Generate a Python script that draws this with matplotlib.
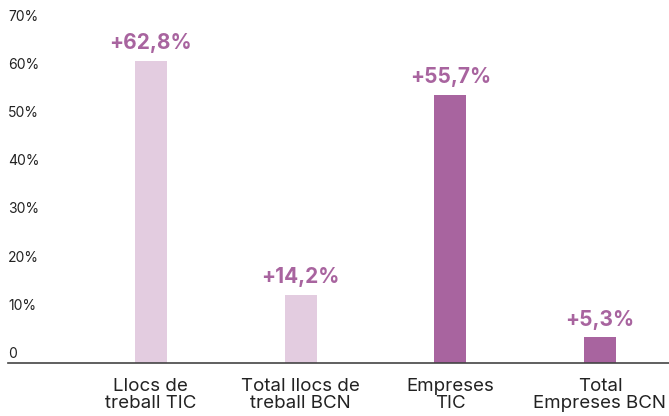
import matplotlib.pyplot as plt
from matplotlib.transforms import offset_copy

# Data
categories = ["Llocs de\ntreball TIC", "Total llocs de\ntreball BCN", "Empreses\nTIC", "Total\nEmpreses BCN"]
values = [62.8, 14.2, 55.7, 5.3]
value_labels = ["+62,8%", "+14,2%", "+55,7%", "+5,3%"]
bar_colors = ["#E3CCE0", "#E3CCE0", "#A8649F", "#A8649F"]
yticks = [0, 10, 20, 30, 40, 50, 60, 70]
ytick_labels = ["0", "10%", "20%", "30%", "40%", "50%", "60%", "70%"]

plt.rcParams['font.family'] = ['Inter', 'DejaVu Sans']

W, H = 669, 416
fig = plt.figure(figsize=(W / 100, H / 100), dpi=100)
left, right, bottom, top = 76, 669, 363, 26
slot = 149.7
ax = fig.add_axes([left / W, (H - bottom) / H, (right - left) / W, (bottom - top) / H])

x = range(len(categories))
ax.bar(x, values, width=0.214, color=bar_colors)
ax.set_xlim(-0.5, (right - left) / slot - 0.5)
ax.set_ylim(0, 70)

for xi, v, lab in zip(x, values, value_labels):
    ax.annotate(lab, (xi, v), xytext=(0, 5.5), textcoords="offset points",
                ha="center", va="bottom", fontsize=15, fontweight="bold", color="#A8649F")

# y tick labels drawn above their gridline positions
tr = offset_copy(ax.get_yaxis_transform(), fig=fig, x=0, y=1.5, units="points")
for t, lab in zip(yticks, ytick_labels):
    ax.text((8 - left) / (right - left), t, lab, transform=tr, ha="left", va="bottom",
            fontsize=10, color="#222222")

ax.set_xticks(list(x))
ax.set_xticklabels(categories, fontsize=13.5, color="#222222", linespacing=0.95)
ax.tick_params(axis="x", length=0, pad=11)
ax.set_yticks([])

for s in ax.spines.values():
    s.set_visible(False)
ax.axhline(0, xmin=(8 - left) / (right - left), xmax=1, color="#444444", lw=1.2, clip_on=False)

fig.savefig("out.png", dpi=100)
